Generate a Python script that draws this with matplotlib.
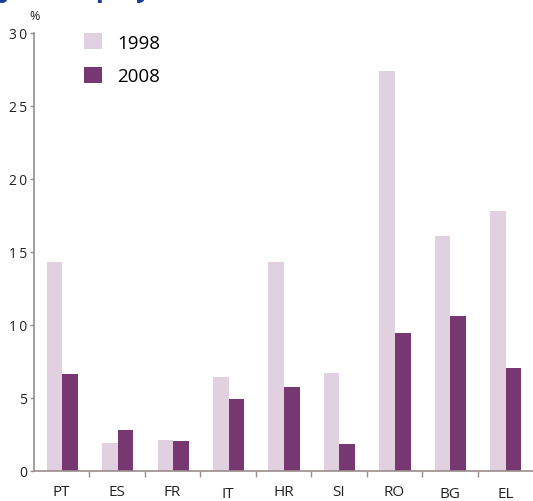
import matplotlib.pyplot as plt
import matplotlib.transforms as mtrans
import numpy as np

plt.rcParams['font.family'] = ['Open Sans', 'DejaVu Sans']

countries = ['PT', 'ES', 'FR', 'IT', 'HR', 'SI', 'RO', 'BG', 'EL']
v1998 = [14.3, 1.9, 2.1, 6.4, 14.3, 6.7, 27.4, 16.1, 17.8]
v2008 = [6.6, 2.8, 2.0, 4.9, 5.7, 1.8, 9.4, 10.6, 7.0]
yticks = [0, 5, 10, 15, 20, 25, 30]

c_light = '#e0d0e0'
c_dark = '#773872'
c_axis = '#9b8c8c'

W, H = 533, 502
fig = plt.figure(figsize=(W / 100, H / 100), dpi=100)
ax = fig.add_axes([34 / W, 30.5 / H, (W - 34) / W, (471.5 - 34) / H])

x = np.arange(len(countries))
bw = 0.282
ax.bar(x + 0.228, v1998, width=bw, align='edge', color=c_light, label='1998')
ax.bar(x + 0.228 + bw, v2008, width=bw, align='edge', color=c_dark, label='2008')

ax.set_xlim(0, len(countries))
ax.set_ylim(0, 30)

for s in ['top', 'right']:
    ax.spines[s].set_visible(False)
for s in ['left', 'bottom']:
    ax.spines[s].set_color(c_axis)
    ax.spines[s].set_linewidth(1.2)

ax.set_yticks(yticks)
ax.set_yticklabels(['\u2009'.join(str(t)) for t in yticks], fontsize=10, color='#222222')
ax.tick_params(axis='y', length=3, width=1, color=c_axis, pad=2)

ax.set_xticks(x + 0.5)
ax.set_xticklabels(countries, fontsize=11, color='#222222')
ax.tick_params(axis='x', which='major', length=0, pad=10)
ax.set_xticks(np.arange(1, len(countries)), minor=True)
ax.tick_params(axis='x', which='minor', length=4, width=1, color=c_axis)
# slightly staggered labels as in the original
for lab, off in zip(ax.get_xticklabels(), [0, 0, 0, 2, 0, 0, 0, 2, 2]):
    if off:
        lab.set_transform(lab.get_transform() + mtrans.ScaledTranslation(0, -off / 100, fig.dpi_scale_trans))

fig.text(29 / W, 1 - 17 / H, '%', fontsize=9, color='#222222', va='center')

ax.legend(loc='upper left', bbox_to_anchor=(84 / W, 1 - 34 / H), bbox_transform=fig.transFigure,
          frameon=False, fontsize=13.5, handlelength=0.96, handleheight=0.96,
          handletextpad=0.8, labelspacing=0.8, borderpad=0, borderaxespad=0)

# clipped title at the top edge
fig.text(-2 / W, 1 + 3 / H, 'y unemployment', fontsize=19, fontweight='bold',
         color='#1a3d96', va='baseline', ha='left')

fig.savefig('out.png', dpi=100)
